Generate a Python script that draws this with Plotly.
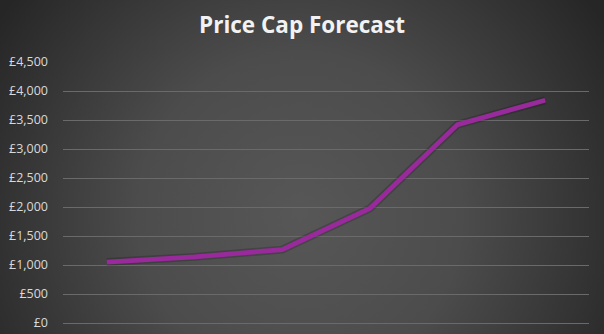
import base64
import plotly.graph_objects as go

categories = ["Apr 2021", "Oct 2021", "Apr 2022", "Oct 2022", "Jan 2023", "Apr 2023"]
price_cap = [1050, 1140, 1265, 1975, 3420, 3840]
tick_values = [0, 500, 1000, 1500, 2000, 2500, 3000, 3500, 4000, 4500]
tick_labels = ["£0", "£500", "£1,000", "£1,500", "£2,000", "£2,500", "£3,000", "£3,500", "£4,000", "£4,500"]

W, H = 604, 334
ML, MR, MT, MB = 63, 15, 62, 11
PW, PH = W - ML - MR, H - MT - MB

svg = f'''<svg xmlns="http://www.w3.org/2000/svg" width="{W}" height="{H}" viewBox="0 0 {W} {H}">
<defs><radialGradient id="g" gradientUnits="userSpaceOnUse" cx="300" cy="215" r="360">
<stop offset="0" stop-color="#575757"/><stop offset="0.45" stop-color="#4c4c4c"/>
<stop offset="1" stop-color="#262626"/></radialGradient></defs>
<rect width="{W}" height="{H}" fill="url(#g)"/></svg>'''
bg = "data:image/svg+xml;base64," + base64.b64encode(svg.encode()).decode()

fig = go.Figure()
fig.add_trace(go.Scatter(
    x=categories, y=price_cap, mode="lines",
    line=dict(color="rgba(0,0,0,0.18)", width=8),
    hoverinfo="skip", showlegend=False,
))
fig.add_trace(go.Scatter(
    x=categories, y=price_cap, mode="lines",
    line=dict(color="#982a9b", width=4.8),
    showlegend=False,
))

fig.update_layout(
    width=W, height=H,
    margin=dict(l=ML, r=MR, t=MT, b=MB, autoexpand=False),
    paper_bgcolor="#3a3a3a",
    plot_bgcolor="rgba(0,0,0,0)",
    images=[dict(source=bg, xref="paper", yref="paper",
                 x=-ML / PW, y=1 + MT / PH, sizex=W / PW, sizey=H / PH,
                 xanchor="left", yanchor="top", layer="below", sizing="stretch")],
    title=dict(text="<b>Price Cap Forecast</b>", x=0.5, xanchor="center", y=0.925, yanchor="middle",
               font=dict(family="Open Sans", size=22.5, color="#f2f2f2")),
    xaxis=dict(type="category", range=[-0.5, 5.5], showticklabels=False, showgrid=False,
               zeroline=False, showline=False, ticks="", automargin=False),
    yaxis=dict(range=[0, 4500], tickvals=tick_values, ticktext=tick_labels, automargin=False,
               showgrid=True, gridcolor="#6a6a6a", gridwidth=1,
               zeroline=True, zerolinecolor="#6a6a6a", zerolinewidth=1,
               showline=False, ticks="", ticklabelstandoff=14,
               tickfont=dict(family="Open Sans", size=12.5, color="#d9d9d9")),
)
fig.write_html("out.html")
